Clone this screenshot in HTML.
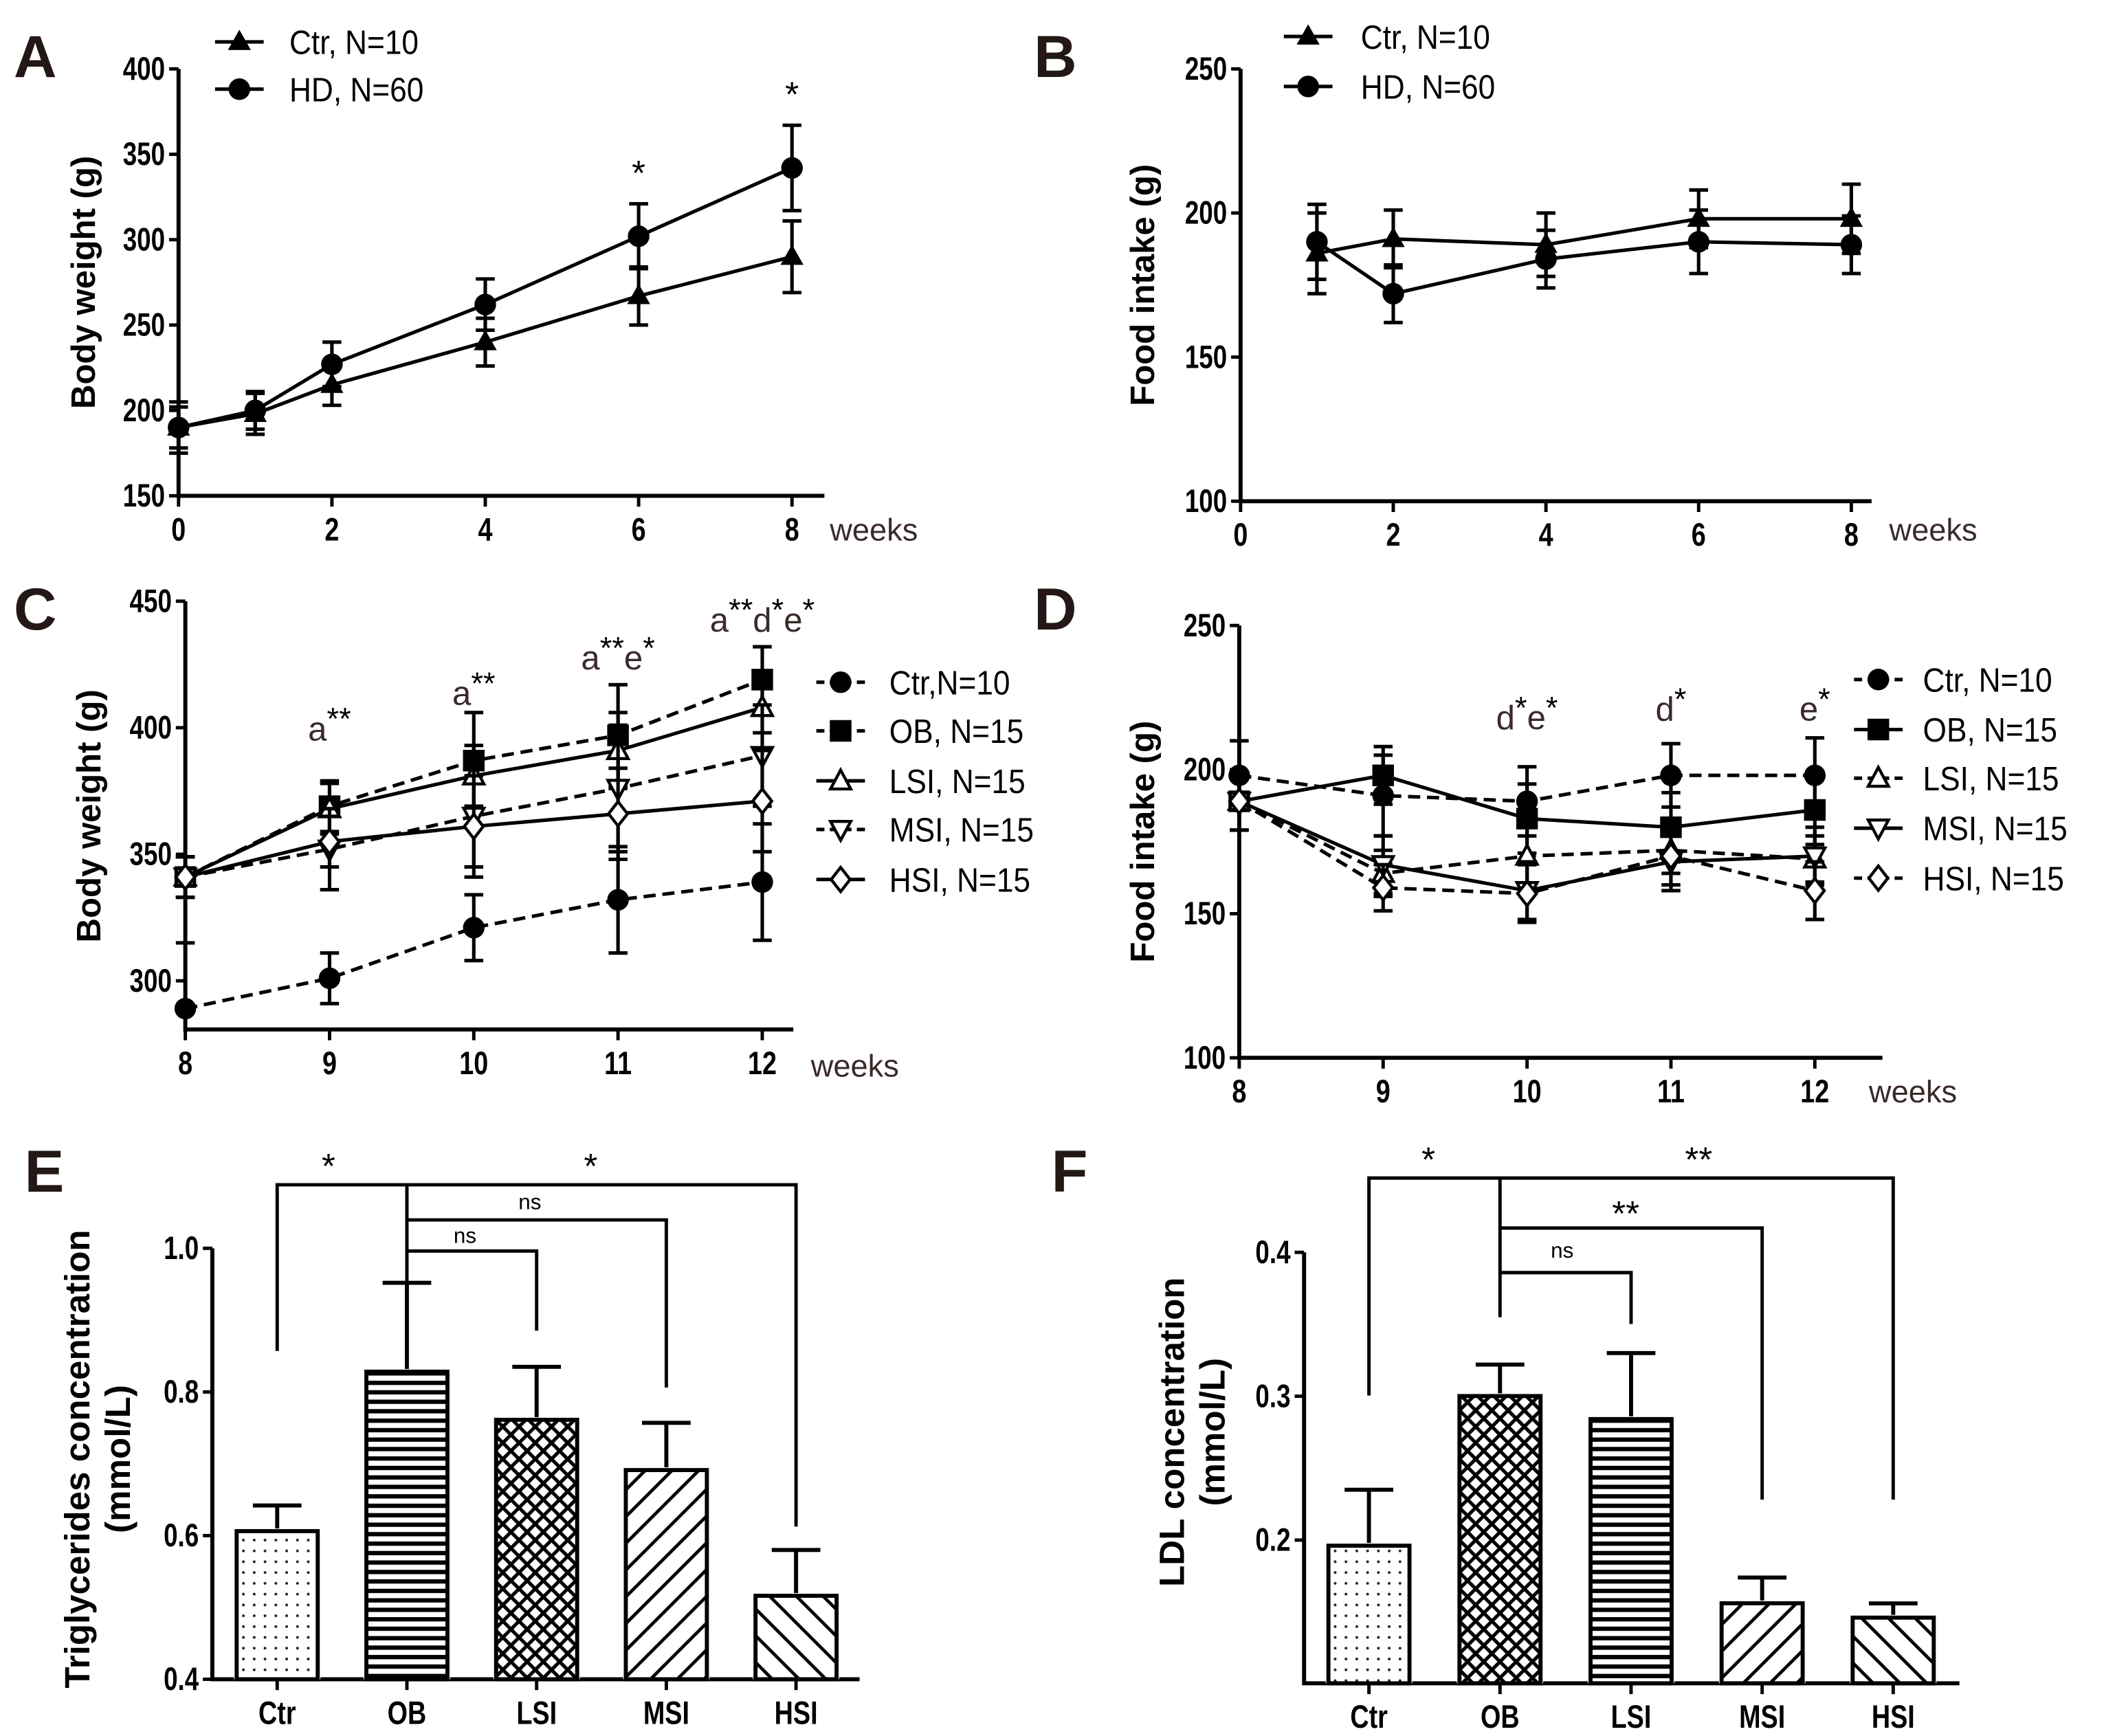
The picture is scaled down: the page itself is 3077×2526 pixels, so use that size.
<!DOCTYPE html>
<html><head><meta charset="utf-8"><style>
html,body{margin:0;padding:0;background:#fff}
svg{display:block}
text{font-family:"Liberation Sans",Arial,sans-serif}
</style></head><body>
<svg id="fig" width="3077" height="2526" viewBox="0 0 1565 1285" xmlns="http://www.w3.org/2000/svg">
<defs>
<pattern id="pDots" width="8" height="8" patternUnits="userSpaceOnUse"><circle cx="4" cy="4" r="1" fill="#222"/></pattern>
<pattern id="pHoriz" width="10" height="7" patternUnits="userSpaceOnUse"><rect x="0" y="0" width="10" height="3.2" fill="#000"/></pattern>
<pattern id="pCross" width="12" height="12" patternUnits="userSpaceOnUse"><path d="M0,0 L12,12 M12,0 L0,12" stroke="#000" stroke-width="2.6"/></pattern>
<pattern id="pFwd" width="14" height="14" patternUnits="userSpaceOnUse" patternTransform="rotate(45)"><rect x="0" y="0" width="2.4" height="14" fill="#000"/></pattern>
<pattern id="pBack" width="14" height="14" patternUnits="userSpaceOnUse" patternTransform="rotate(-45)"><rect x="0" y="0" width="2.4" height="14" fill="#000"/></pattern>
</defs>
<g id="root"></g>
</svg>
<script>
// ---- Panel A data ----
const aWeeks=[0,1,2,4,6,8];
const aCtr=[190,198,215,240,267,290];
const aCtrErr=[12,12,12,14,17,21];
const aHD=[190,200,227,262,302,342];
const aHDErr=[15,11,13,15,19,25];
const aTicksY=[150,200,250,300,350,400];
const aTicksX=[0,2,4,6,8];
const aStars=[{w:6,t:"*"},{w:8,t:"*"}];
// ---- Panel B data ----
const bWeeks=[1,2,4,6,8];
const bCtr=[186,191,189,198,198];
const bCtrErr=[14,10,11,10,12];
const bHD=[190,172,184,190,189];
const bHDErr=[13,10,10,11,10];
const bTicksY=[100,150,200,250];
const bTicksX=[0,2,4,6,8];
// ---- Panel C data ----
const cWeeks=[8,9,10,11,12];
const cCtr=[289,301,321,332,339];
const cCtrErr=[26,10,13,21,23];
const cOB=[341,369,387,397,419];
const cOBErr=[8,10,19,20,13];
const cLSI=[341,368,381,391,408];
const cLSIErr=[8,10,12,15,10];
const cMSI=[341,352,365,376,389];
const cMSIErr=[8,16,20,25,20];
const cHSI=[341,355,361,366,371];
const cHSIErr=[8,10,20,18,20];
const cTicksY=[300,350,400,450];
const cNotes=[{w:9,v:395,t:["a","**"]},{w:10,v:409,t:["a","**"]},{w:11,v:423,t:["a","**","e","*"]},{w:12,v:438,t:["a","**","d","*","e","*"]}];
// ---- Panel D data ----
const dWeeks=[8,9,10,11,12];
const dCtr=[198,191,189,198,198];
const dCtrErr=[12,14,12,11,13];
const dOB=[189,198,183,180,186];
const dOBErr=[10,10,12,12,12];
const dLSI=[189,164,170,172,169];
const dLSIErr=[10,8,10,8,8];
const dMSI=[189,167,158,168,170];
const dMSIErr=[10,10,10,10,10];
const dHSI=[189,159,157,170,158];
const dHSIErr=[10,8,10,10,10];
const dTicksY=[100,150,200,250];
const dNotes=[{w:10,v:214,t:["d","*","e","*"]},{w:11,v:217,t:["d","*"]},{w:12,v:217,t:["e","*"]}];
// ---- Panel E data ----
const eCats=["Ctr","OB","LSI","MSI","HSI"];
const eVals=[0.61,0.832,0.765,0.695,0.52];
const eErrs=[0.032,0.12,0.07,0.062,0.06];
const eTicksY=[0.4,0.6,0.8,1.0];
// ---- Panel F data ----
const fCats=["Ctr","OB","LSI","MSI","HSI"];
const fVals=[0.198,0.302,0.286,0.158,0.148];
const fErrs=[0.037,0.02,0.044,0.016,0.008];
const fTicksY=[0.2,0.3,0.4];
const eFills=["url(#pDots)","url(#pHoriz)","url(#pCross)","url(#pFwd)","url(#pBack)"];
const fFills=["url(#pDots)","url(#pCross)","url(#pHoriz)","url(#pFwd)","url(#pBack)"];

const NS="http://www.w3.org/2000/svg";
const root=document.getElementById('root');
function el(tag,attrs,parent,txt){const e=document.createElementNS(NS,tag);for(const k in attrs)e.setAttribute(k,attrs[k]);if(txt!==undefined)e.textContent=txt;(parent||root).appendChild(e);return e;}
function grp(name){const g=el('g',{});return g;}
function lin(x0,x1,d0,d1){return v=>x0+(v-d0)*(x1-x0)/(d1-d0);}

function axes(g,X0,X1,Yt,Yb,yScale,ticksY,fmt,xScale,ticksX,xLabels){
  const a=el('path',{d:`M${X0},${Yt} L${X0},${Yb} L${X1},${Yb}`,stroke:'#000','stroke-width':3,fill:'none'},g);
  
  ticksY.forEach(v=>{const y=yScale(v);el('line',{x1:X0-7,x2:X0,y1:y,y2:y,stroke:'#000','stroke-width':2.5},g);
    const t=el('text',{x:X0-10,y:y+8,'text-anchor':'end','font-size':24,'font-weight':'bold',transform:`translate(${X0-10},0) scale(0.78,1) translate(${-(X0-10)},0)`},g,fmt(v));
    });
  ticksX.forEach((v,i)=>{const x=xScale(v);el('line',{x1:x,x2:x,y1:Yb,y2:Yb+8,stroke:'#000','stroke-width':2.5},g);
    const t=el('text',{x:x,y:Yb+33,'text-anchor':'middle','font-size':24,'font-weight':'bold',transform:`translate(${x},0) scale(0.8,1) translate(${-x},0)`},g,xLabels?xLabels[i]:String(v));
    });
}
function ytitle(g,x,y,lines,fs){lines.forEach((s,i)=>{const t=el('text',{x:0,y:0,'font-size':fs,'font-weight':'bold','text-anchor':'middle',transform:`translate(${x+i*30},${y}) rotate(-90)`},g,s);
  });}
function panelLabel(t,x,y){const e=el('text',{x:x,y:y,'font-size':44,'font-weight':'bold',fill:'#231815'},root,t);}
function marker(g,type,x,y,s){
  s=s||1;let e;
  if(type==='circle')e=el('circle',{cx:x,cy:y,r:8*s,fill:'#000'},g);
  else if(type==='square')e=el('rect',{x:x-8*s,y:y-8*s,width:16*s,height:16*s,fill:'#000'},g);
  else if(type==='tri')e=el('path',{d:`M${x},${y-9*s} L${x+8.5*s},${y+6*s} L${x-8.5*s},${y+6*s}Z`,fill:'#000'},g);
  else if(type==='otri')e=el('path',{d:`M${x},${y-8*s} L${x+7.5*s},${y+6*s} L${x-7.5*s},${y+6*s}Z`,fill:'#fff',stroke:'#000','stroke-width':2.2},g);
  else if(type==='odown')e=el('path',{d:`M${x},${y+8*s} L${x+7.5*s},${y-6*s} L${x-7.5*s},${y-6*s}Z`,fill:'#fff',stroke:'#000','stroke-width':2.2},g);
  else if(type==='odiam')e=el('path',{d:`M${x},${y-9*s} L${x+7*s},${y} L${x},${y+9*s} L${x-7*s},${y}Z`,fill:'#fff',stroke:'#000','stroke-width':2.2},g);
  
}
function series(name,xs,ys,errs,xScale,yScale,type,dashed,clipY){
  const g=grp(name);
  const pts=xs.map((w,i)=>[xScale(w),yScale(ys[i])]);
  xs.forEach((w,i)=>{const x=xScale(w),yt=yScale(ys[i]+errs[i]);let yb=yScale(ys[i]-errs[i]);
    let d=`M${x},${yt} L${x},${Math.min(yb,clipY||1e9)} M${x-7},${yt} L${x+7},${yt}`;
    if(!clipY||yb<clipY)d+=` M${x-7},${yb} L${x+7},${yb}`;
    const eb=el('path',{d:d,stroke:'#000','stroke-width':2.6,fill:'none'},g);
    });
  const l=el('polyline',{points:pts.map(p=>p.join(',')).join(' '),fill:'none',stroke:'#000','stroke-width':2.6,'stroke-dasharray':dashed?'9,5':'none'},g);
  
  pts.forEach(p=>marker(g,type,p[0],p[1]));
}
function legend(name,x,y,type,dashed,label,tx){
  const g=grp('legend-entry-'+name);
  el('line',{x1:x-18,x2:x+18,y1:y,y2:y,stroke:'#000','stroke-width':2.6,'stroke-dasharray':dashed?'6,4':'none'},g);
  marker(g,type,x,y);
  el('text',{x:tx,y:y+9,'font-size':25,transform:`translate(${tx},0) scale(0.9,1) translate(${-tx},0)`},g,label);
}
function notes(g,list,xScale,yScale){
  list.forEach(n=>{const t=el('text',{x:xScale(n.w),y:yScale(n.v),'text-anchor':'middle','font-size':25,fill:'#3a2a2a'},g);
    
    n.t.forEach((s,k)=>{const sp=el('tspan',{},t,s);if(s.includes('*')){sp.setAttribute('dy','-8');sp.setAttribute('font-size','23');sp.setAttribute('fill','#000');}else{sp.setAttribute('dy',k===0?'0':'8');}});});
}
function weeks(g,x,y){const t=el('text',{x:x,y:y,'font-size':23,fill:'#3a2a2a'},g,'weeks');}

// ===== Panel A =====
(function(){
  const g=grp('panel-a');
  const xs=lin(132,586,0,8), ys=lin(367,51,150,400);
  axes(g,132,610,51,367,ys,aTicksY,v=>String(v),xs,aTicksX);
  ytitle(g,70,209,['Body weight (g)'],25);
  weeks(g,614,400);
  series('series-ctr-a',aWeeks,aCtr,aCtrErr,xs,ys,'tri',false);
  series('series-hd-a',aWeeks,aHD,aHDErr,xs,ys,'circle',false);
  aStars.forEach(s=>{const i=aWeeks.indexOf(s.w);const t=el('text',{x:xs(s.w),y:ys(aHD[i]+aHDErr[i])-14,'text-anchor':'middle','font-size':26},g,s.t);});
  legend('ctr-a',177,31,'tri',false,'Ctr, N=10',214);
  legend('hd-a',177,66,'circle',false,'HD, N=60',214);
})();
panelLabel('A',10,57);
// ===== Panel B =====
(function(){
  const g=grp('panel-b');
  const xs=lin(918,1370,0,8), ys=lin(371,51,100,250);
  axes(g,918,1385,51,371,ys,bTicksY,v=>String(v),xs,bTicksX);
  ytitle(g,854,211,['Food intake (g)'],25);
  weeks(g,1398,400);
  series('series-ctr-b',bWeeks,bCtr,bCtrErr,xs,ys,'tri',false);
  series('series-hd-b',bWeeks,bHD,bHDErr,xs,ys,'circle',false);
  legend('ctr-b',968,27,'tri',false,'Ctr, N=10',1007);
  legend('hd-b',968,64,'circle',false,'HD, N=60',1007);
})();
panelLabel('B',765,57);
// ===== Panel C =====
(function(){
  const g=grp('panel-c');
  const xs=lin(137,564,8,12), ys=lin(726,445,300,450);
  axes(g,137,587,445,762,ys,cTicksY,v=>String(v),xs,cWeeks);
  ytitle(g,74,604,['Body weight (g)'],25);
  weeks(g,600,797);
  series('series-ctr-c',cWeeks,cCtr,cCtrErr,xs,ys,'circle',true,760);
  series('series-ob-c',cWeeks,cOB,cOBErr,xs,ys,'square',true);
  series('series-lsi-c',cWeeks,cLSI,cLSIErr,xs,ys,'otri',false);
  series('series-msi-c',cWeeks,cMSI,cMSIErr,xs,ys,'odown',true);
  series('series-hsi-c',cWeeks,cHSI,cHSIErr,xs,ys,'odiam',false);
  notes(g,cNotes,xs,ys);
  legend('ctr-c',622,505,'circle',true,'Ctr,N=10',658);
  legend('ob-c',622,541,'square',true,'OB, N=15',658);
  legend('lsi-c',622,578,'otri',false,'LSI, N=15',658);
  legend('msi-c',622,614,'odown',true,'MSI, N=15',658);
  legend('hsi-c',622,651,'odiam',false,'HSI, N=15',658);
})();
panelLabel('C',10,466);
// ===== Panel D =====
(function(){
  const g=grp('panel-d');
  const xs=lin(917,1343,8,12), ys=lin(783,463,100,250);
  axes(g,917,1393,463,783,ys,dTicksY,v=>String(v),xs,dWeeks);
  ytitle(g,854,623,['Food intake (g)'],25);
  weeks(g,1383,816);
  series('series-ctr-d',dWeeks,dCtr,dCtrErr,xs,ys,'circle',true);
  series('series-ob-d',dWeeks,dOB,dOBErr,xs,ys,'square',false);
  series('series-lsi-d',dWeeks,dLSI,dLSIErr,xs,ys,'otri',true);
  series('series-msi-d',dWeeks,dMSI,dMSIErr,xs,ys,'odown',false);
  series('series-hsi-d',dWeeks,dHSI,dHSIErr,xs,ys,'odiam',true);
  notes(g,dNotes,xs,ys);
  legend('ctr-d',1390,503,'circle',true,'Ctr, N=10',1423);
  legend('ob-d',1390,540,'square',false,'OB, N=15',1423);
  legend('lsi-d',1390,576,'otri',true,'LSI, N=15',1423);
  legend('msi-d',1390,613,'odown',false,'MSI, N=15',1423);
  legend('hsi-d',1390,650,'odiam',true,'HSI, N=15',1423);
})();
panelLabel('D',765,466);
// ===== Bars =====
function bars(name,X0,X1,Yt,Yb,ys,cats,vals,errs,ticks,centers,fills){
  const g=grp(name);
  const xs=i=>centers[0]+i*(centers[1]-centers[0]);
  axes(g,X0,X1,Yt,Yb,ys,ticks,v=>v.toFixed(1),xs,cats.map((c,i)=>i),cats);
  cats.forEach((c,i)=>{const x=xs(i),w=64,yv=ys(vals[i]),ye=ys(vals[i]+errs[i]);
    const eb=el('path',{d:`M${x},${yv} L${x},${ye} M${x-18},${ye} L${x+18},${ye}`,stroke:'#000','stroke-width':3,fill:'none'},g);
    
    el('rect',{x:x-w/2,y:yv,width:w,height:Yb-yv,fill:'#fff',stroke:'none'},g);
    const r2=el('rect',{x:x-w/2+2,y:yv+2,width:w-4,height:Yb-yv-2,fill:fills[i],stroke:'#000','stroke-width':3},g);
    });
  return {g,xs};
}
(function(){
  const ys=lin(1243,924,0.4,1.0);
  const {g,xs}=bars('panel-e',157,636,924,1243,ys,eCats,eVals,eErrs,eTicksY,[205,301],eFills);
  ytitle(g,66,1080,['Triglycerides concentration','(mmol/L)'],26);
  const br=el('path',{d:`M${xs(0)},1000 L${xs(0)},877 L${xs(4)},877 L${xs(4)},1130 M${xs(1)},877 L${xs(1)},950 M${xs(1)},903 L${xs(3)},903 L${xs(3)},1027 M${xs(1)},926 L${xs(2)},926 L${xs(2)},985`,stroke:'#000','stroke-width':2.5,fill:'none'},g);
  
  [['*',243,872,26],['*',437,872,26],['ns',392,895,16],['ns',344,920,16]].forEach(a=>{const t=el('text',{x:a[1],y:a[2],'text-anchor':'middle','font-size':a[3]},g,a[0]);});
})();
panelLabel('E',18,882);
(function(){
  const ys=lin(1140,927,0.2,0.4);
  const {g,xs}=bars('panel-f',965,1450,927,1246,ys,fCats,fVals,fErrs,fTicksY,[1013,1110],fFills);
  ytitle(g,876,1060,['LDL concentration','(mmol/L)'],26);
  const br=el('path',{d:`M${xs(0)},1033 L${xs(0)},872 L${xs(4)},872 L${xs(4)},1110 M${xs(1)},872 L${xs(1)},975 M${xs(1)},909 L${xs(3)},909 L${xs(3)},1110 M${xs(1)},942 L${xs(2)},942 L${xs(2)},980`,stroke:'#000','stroke-width':2.5,fill:'none'},g);
  
  [['*',1057,867,26],['**',1257,867,26],['**',1203,907,26],['ns',1156,931,16]].forEach(a=>{const t=el('text',{x:a[1],y:a[2],'text-anchor':'middle','font-size':a[3]},g,a[0]);});
})();
panelLabel('F',778,882);
</script>
</body></html>
